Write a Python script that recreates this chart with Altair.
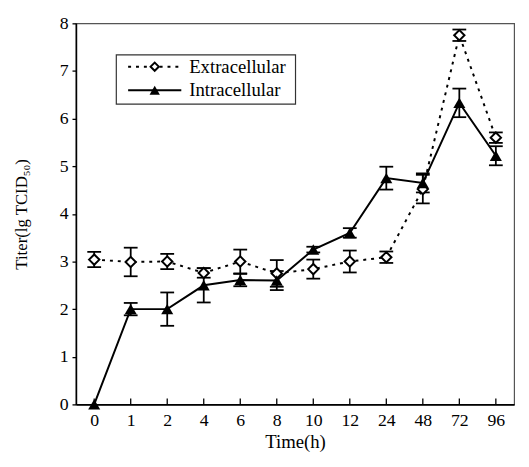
import altair as alt
import pandas as pd

# ---- data ----
time_labels = ["0", "1", "2", "4", "6", "8", "10", "12", "24", "48", "72", "96"]
series_names = ["Extracellular", "Intracellular"]
extra_mean = [3.04, 2.99, 3.00, 2.76, 3.00, 2.75, 2.84, 3.00, 3.09, 4.52, 7.75, 5.60]
extra_err = [0.16, 0.30, 0.16, 0.10, 0.25, 0.28, 0.20, 0.23, 0.12, 0.30, 0.12, 0.11]
intra_mean = [0.00, 2.00, 2.00, 2.50, 2.61, 2.60, 3.25, 3.60, 4.75, 4.65, 6.33, 5.22]
intra_err = [0.00, 0.13, 0.35, 0.36, 0.13, 0.20, 0.06, 0.10, 0.24, 0.20, 0.30, 0.20]
y_ticks = [0, 1, 2, 3, 4, 5, 6, 7, 8]

rows = []
for name, means, errs in [(series_names[0], extra_mean, extra_err),
                          (series_names[1], intra_mean, intra_err)]:
    for t, m, e in zip(time_labels, means, errs):
        rows.append({"series": name, "t": t, "mean": m, "err": e,
                     "lo": m - e, "hi": m + e})
df = pd.DataFrame(rows)

FONT = "Liberation Serif"
W, H = 445, 387

x_scale = alt.Scale(type="point", padding=0.5, domain=time_labels)
x_enc = alt.X("t:O", sort=time_labels, scale=x_scale,
              axis=alt.Axis(title="Time(h)", labelAngle=0, ticks=False,
                            labelPadding=7, titlePadding=4, titleFontSize=19))
x_plain = alt.X("t:O", sort=time_labels, scale=x_scale)
y_scale = alt.Scale(domain=[0, 8], nice=False, zero=True)
y_enc = alt.Y("mean:Q", scale=y_scale,
              axis=alt.Axis(title="Titer(lg TCID₅₀)", values=y_ticks,
                            tickSize=4, labelPadding=4, titlePadding=29))

base = alt.Chart(df)
ex = base.transform_filter(alt.datum.series == series_names[0])
inn = base.transform_filter(alt.datum.series == series_names[1])
inn_err = inn.transform_filter(alt.datum.err > 0)

line_ex = ex.mark_line(color="black", strokeWidth=2, strokeDash=[3, 5]).encode(x=x_enc, y=y_enc)
line_in = inn.mark_line(color="black", strokeWidth=2).encode(x=x_plain, y=alt.Y("mean:Q", scale=y_scale))

def errbars(src):
    r = src.mark_rule(color="black", strokeWidth=1.8).encode(
        x=x_plain, y=alt.Y("lo:Q", scale=y_scale), y2="hi:Q")
    c1 = src.mark_tick(color="black", thickness=1.8, size=14, opacity=1).encode(
        x=x_plain, y=alt.Y("lo:Q", scale=y_scale))
    c2 = src.mark_tick(color="black", thickness=1.8, size=14, opacity=1).encode(
        x=x_plain, y=alt.Y("hi:Q", scale=y_scale))
    return [r, c1, c2]

pts_in = inn.mark_point(shape="triangle-up", filled=True, color="black",
                        size=150, opacity=1).encode(x=x_plain, y=alt.Y("mean:Q", scale=y_scale))
pts_ex = ex.mark_point(shape="diamond", filled=True, fill="white", stroke="black",
                       strokeWidth=2, size=110, opacity=1).encode(
    x=x_plain, y=alt.Y("mean:Q", scale=y_scale))

# inward x ticks
xticks = ex.mark_tick(orient="vertical", color="black", size=6, thickness=1.3,
                      yOffset=-3, opacity=1).encode(x=x_plain, y=alt.datum(0))

# ---- manual legend (line + marker samples) ----
leg1 = alt.Chart(pd.DataFrame({"label": [series_names[0]]}))
leg2 = alt.Chart(pd.DataFrame({"label": [series_names[1]]}))
leg_box = leg1.mark_rect(fill="white", stroke="#333", strokeWidth=1.2).encode(
    x=alt.value(41), x2=alt.value(223), y=alt.value(32), y2=alt.value(82))
leg_l1 = leg1.mark_rule(color="black", strokeWidth=2, strokeDash=[3, 5]).encode(
    x=alt.value(53), x2=alt.value(107), y=alt.value(44))
leg_p1 = leg1.mark_point(shape="diamond", filled=True, fill="white", stroke="black",
                         strokeWidth=2, size=70, opacity=1).encode(
    x=alt.value(80), y=alt.value(44))
leg_t1 = leg1.mark_text(align="left", baseline="middle", font=FONT, fontSize=19,
                        color="black").encode(x=alt.value(115), y=alt.value(44), text="label:N")
leg_l2 = leg2.mark_rule(color="black", strokeWidth=2).encode(
    x=alt.value(53), x2=alt.value(107), y=alt.value(68))
leg_p2 = leg2.mark_point(shape="triangle-up", filled=True, color="black",
                         size=110, opacity=1).encode(x=alt.value(80), y=alt.value(68))
leg_t2 = leg2.mark_text(align="left", baseline="middle", font=FONT, fontSize=19,
                        color="black").encode(x=alt.value(115), y=alt.value(68), text="label:N")

layers = [line_ex, line_in] + errbars(ex) + errbars(inn_err) + [xticks, pts_ex, pts_in,
          leg_box, leg_l1, leg_p1, leg_t1, leg_l2, leg_p2, leg_t2]

chart = alt.layer(*layers).properties(
    width=W, height=H,
    autosize=alt.AutoSizeParams(type="none"),
    padding={"left": 69, "top": 12, "right": 7, "bottom": 60},
    background="white",
).configure_view(
    stroke="#555", strokeWidth=1.2
).configure_axis(
    labelFont=FONT, titleFont=FONT, labelFontSize=18, titleFontSize=17,
    labelColor="black", titleColor="black", titleFontWeight="normal",
    domainColor="black", domainWidth=1.6, tickColor="black", tickWidth=1.3,
    grid=False,
)

chart.save("out.html", embed_options={"renderer": "svg", "actions": False})
